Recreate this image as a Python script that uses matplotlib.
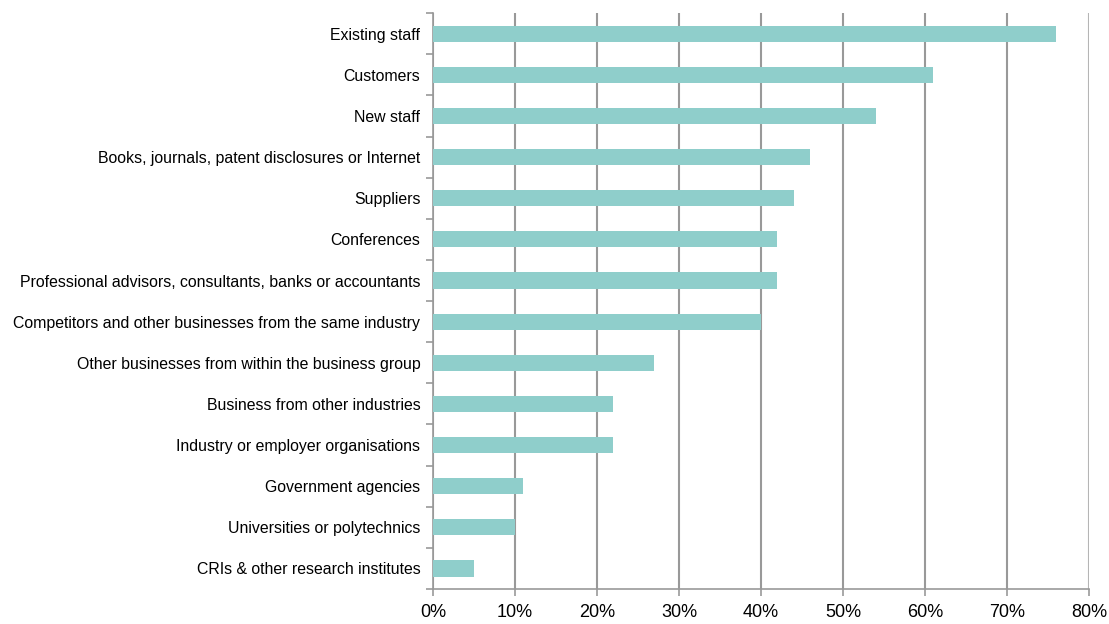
import matplotlib.pyplot as plt
from matplotlib.ticker import FixedLocator, PercentFormatter

plt.rcParams["font.family"] = ["Liberation Sans", "DejaVu Sans"]

sources = [
    "Existing staff",
    "Customers",
    "New staff",
    "Books, journals, patent disclosures or Internet",
    "Suppliers",
    "Conferences",
    "Professional advisors, consultants, banks or accountants",
    "Competitors and other businesses from the same industry",
    "Other businesses from within the business group",
    "Business from other industries",
    "Industry or employer organisations",
    "Government agencies",
    "Universities or polytechnics",
    "CRIs & other research institutes",
]
share = [76, 61, 54, 46, 44, 42, 42, 40, 27, 22, 22, 11, 10, 5]

grey = "#999999"
fig = plt.figure(figsize=(11.09, 6.24), dpi=100)
ax = fig.add_axes([0.3904, 0.056, 0.5915, 0.923])

y = range(len(sources))
ax.barh(y, share, height=0.39, color="#8fcecb", zorder=3)
ax.set_ylim(len(sources) - 0.5, -0.5)
ax.set_xlim(0, 80)

ax.set_yticks(list(y))
ax.set_yticklabels(sources, fontsize=11.4)
ax.tick_params(axis="y", which="major", length=0, pad=9)
ax.yaxis.set_minor_locator(FixedLocator([k - 0.5 for k in range(len(sources) + 1)]))
ax.tick_params(axis="y", which="minor", length=5, color=grey, width=1.2)

ax.set_xticks(range(0, 81, 10))
ax.xaxis.set_major_formatter(PercentFormatter(decimals=0))
ax.tick_params(axis="x", length=5, color=grey, width=1.2, labelsize=13, pad=6)

ax.grid(axis="x", color=grey, linewidth=1.5, zorder=0)
ax.get_xgridlines()[-1].set_color("#b5b5b5")
for side in ("top", "right"):
    ax.spines[side].set_visible(False)
for side in ("left", "bottom"):
    ax.spines[side].set_color(grey)
    ax.spines[side].set_linewidth(1.2)

fig.savefig("out.png", dpi=100)
